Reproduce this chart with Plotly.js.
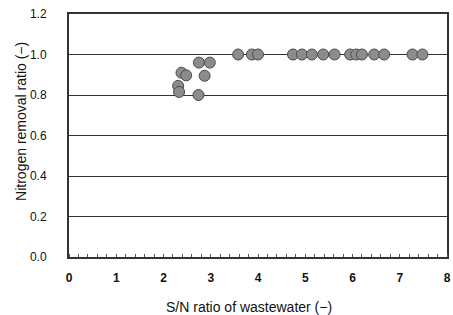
<!DOCTYPE html>
<html>
<head>
<meta charset="utf-8">
<script src="https://cdn.plot.ly/plotly-3.0.1.min.js"></script>
<style>html,body{margin:0;padding:0;background:#fff;}#chart{width:453px;height:315px;}</style>
</head>
<body>
<div id="chart"></div>
<script>
var snRatio = [2.31, 2.33, 2.38, 2.48, 2.74, 2.75, 2.87, 2.98, 3.58, 3.87, 4.00, 4.74, 4.93, 5.14, 5.38, 5.62, 5.95, 6.08, 6.20, 6.46, 6.67, 7.27, 7.48];
var removalRatio = [0.845, 0.815, 0.91, 0.897, 0.80, 0.96, 0.895, 0.96, 1.0, 1.0, 1.0, 1.0, 1.0, 1.0, 1.0, 1.0, 1.0, 1.0, 1.0, 1.0, 1.0, 1.0, 1.0];
var xTicks = [0, 1, 2, 3, 4, 5, 6, 7, 8];
var yTicks = [0.0, 0.2, 0.4, 0.6, 0.8, 1.0, 1.2];
var xTitle = 'S/N ratio of wastewater (\u2212)';
var yTitle = 'Nitrogen removal ratio (\u2212)';

var font = '"Liberation Sans", Arial, sans-serif';
var trace = {
  x: snRatio, y: removalRatio, type: 'scatter', mode: 'markers',
  marker: {size: 11, color: '#8c8c8c', line: {color: '#4a4a4a', width: 1}},
  hoverinfo: 'skip'
};
var layout = {
  width: 453, height: 315,
  margin: {l: 69, r: 6, t: 14, b: 58},
  paper_bgcolor: '#fff', plot_bgcolor: '#fff',
  showlegend: false,
  font: {family: font, color: '#111'},
  xaxis: {
    range: [0, 8], tickvals: xTicks, ticktext: xTicks.map(String),
    showgrid: false, zeroline: false,
    showline: true, mirror: true, linecolor: '#333', linewidth: 2,
    ticks: '', ticklabelstandoff: 9,
    tickfont: {size: 12, family: font, weight: 'bold', color: '#111'},
    minor: {dtick: 0.2, ticks: 'inside', ticklen: 3, tickcolor: '#555', tickwidth: 1, showgrid: false}
  },
  yaxis: {
    range: [0, 1.2], tickvals: yTicks, ticktext: yTicks.map(function(v){return v.toFixed(1);}),
    showgrid: true, gridcolor: '#333', gridwidth: 1,
    zeroline: false,
    showline: true, mirror: true, linecolor: '#333', linewidth: 2,
    ticks: '', ticklabelstandoff: 18,
    tickfont: {size: 12, family: font, color: '#111'}
  },
  annotations: [
    {text: xTitle, xref: 'paper', yref: 'paper', x: 0.475, y: -0.206, xanchor: 'center', yanchor: 'middle',
     showarrow: false, font: {size: 14, family: font, color: '#111'}},
    {text: yTitle, xref: 'paper', yref: 'paper', x: -0.127, y: 0.56, xanchor: 'center', yanchor: 'middle',
     textangle: -90, showarrow: false, font: {size: 14, family: font, color: '#111'}}
  ]
};
Plotly.newPlot('chart', [trace], layout, {staticPlot: true, displayModeBar: false});
</script>
</body>
</html>
